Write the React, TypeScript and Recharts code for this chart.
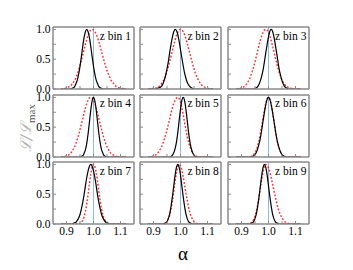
import { Line, LineChart, ReferenceLine, XAxis, YAxis } from "recharts";

// alpha grid shared by every panel
const alpha = [
  0.88, 0.885, 0.89, 0.895, 0.9, 0.905, 0.91, 0.915, 0.92, 0.925,
  0.93, 0.935, 0.94, 0.945, 0.95, 0.955, 0.96, 0.965, 0.97, 0.975,
  0.98, 0.985, 0.99, 0.995, 1, 1.005, 1.01, 1.015, 1.02, 1.025,
  1.03, 1.035, 1.04, 1.045, 1.05, 1.055, 1.06, 1.065, 1.07, 1.075,
  1.08, 1.085, 1.09, 1.095, 1.1, 1.105, 1.11, 1.115, 1.12,
];

// L / Lmax, black solid curves
const black1 = [
  0, 0, 0, 0, 0, 0, 0, 0, 0.01, 0.02,
  0.04, 0.09, 0.15, 0.25, 0.38, 0.54, 0.71, 0.86, 0.96, 1,
  0.96, 0.86, 0.71, 0.54, 0.38, 0.25, 0.15, 0.09, 0.04, 0.02,
  0.01, 0, 0, 0, 0, 0, 0, 0, 0, 0,
  0, 0, 0, 0, 0, 0, 0, 0, 0,
];
const black2 = [
  0, 0, 0, 0, 0, 0, 0, 0.01, 0.02, 0.03,
  0.05, 0.09, 0.15, 0.23, 0.34, 0.46, 0.61, 0.75, 0.87, 0.96,
  1, 0.98, 0.91, 0.8, 0.66, 0.52, 0.39, 0.27, 0.18, 0.11,
  0.07, 0.04, 0.02, 0.01, 0, 0, 0, 0, 0, 0,
  0, 0, 0, 0, 0, 0, 0, 0, 0,
];
const black3 = [
  0, 0, 0, 0, 0, 0, 0, 0, 0, 0,
  0, 0, 0, 0, 0.01, 0.02, 0.04, 0.08, 0.14, 0.22,
  0.32, 0.46, 0.61, 0.75, 0.88, 0.97, 1, 0.97, 0.88, 0.75,
  0.61, 0.46, 0.32, 0.22, 0.14, 0.08, 0.04, 0.02, 0.01, 0,
  0, 0, 0, 0, 0, 0, 0, 0, 0,
];
const black4 = [
  0, 0, 0, 0, 0, 0, 0, 0, 0, 0,
  0, 0, 0, 0, 0, 0.01, 0.02, 0.06, 0.12, 0.23,
  0.39, 0.59, 0.79, 0.94, 1, 0.94, 0.79, 0.59, 0.39, 0.23,
  0.12, 0.06, 0.02, 0.01, 0, 0, 0, 0, 0, 0,
  0, 0, 0, 0, 0, 0, 0, 0, 0,
];
const black5 = [
  0, 0, 0, 0, 0, 0, 0, 0, 0, 0,
  0, 0, 0, 0, 0, 0, 0, 0.01, 0.03, 0.07,
  0.14, 0.25, 0.41, 0.61, 0.8, 0.95, 1, 0.95, 0.8, 0.61,
  0.41, 0.25, 0.14, 0.07, 0.03, 0.01, 0, 0, 0, 0,
  0, 0, 0, 0, 0, 0, 0, 0, 0,
];
const black6 = [
  0, 0, 0, 0, 0, 0, 0, 0, 0, 0,
  0, 0, 0.01, 0.02, 0.04, 0.08, 0.14, 0.22, 0.32, 0.46,
  0.61, 0.75, 0.88, 0.97, 1, 0.97, 0.88, 0.75, 0.61, 0.46,
  0.32, 0.22, 0.14, 0.08, 0.04, 0.02, 0.01, 0, 0, 0,
  0, 0, 0, 0, 0, 0, 0, 0, 0,
];
const black7 = [
  0, 0, 0, 0, 0, 0, 0, 0, 0, 0.01,
  0.02, 0.03, 0.06, 0.1, 0.16, 0.25, 0.36, 0.49, 0.64, 0.78,
  0.89, 0.97, 1, 0.97, 0.89, 0.78, 0.64, 0.49, 0.36, 0.25,
  0.16, 0.1, 0.06, 0.03, 0.02, 0.01, 0, 0, 0, 0,
  0, 0, 0, 0, 0, 0, 0, 0, 0,
];
const black8 = [
  0, 0, 0, 0, 0, 0, 0, 0, 0, 0,
  0, 0, 0.01, 0.02, 0.04, 0.09, 0.17, 0.3, 0.46, 0.64,
  0.82, 0.95, 1, 0.95, 0.82, 0.64, 0.46, 0.3, 0.17, 0.09,
  0.04, 0.02, 0.01, 0, 0, 0, 0, 0, 0, 0,
  0, 0, 0, 0, 0, 0, 0, 0, 0,
];
const black9 = [
  0, 0, 0, 0, 0, 0, 0, 0, 0, 0,
  0, 0.01, 0.02, 0.04, 0.09, 0.17, 0.3, 0.46, 0.64, 0.82,
  0.95, 1, 0.95, 0.82, 0.64, 0.46, 0.3, 0.17, 0.09, 0.04,
  0.02, 0.01, 0, 0, 0, 0, 0, 0, 0, 0,
  0, 0, 0, 0, 0, 0, 0, 0, 0,
];

// L / Lmax, red dotted curves
const red1 = [
  0, 0, 0.01, 0.01, 0.02, 0.03, 0.04, 0.05, 0.08, 0.11,
  0.14, 0.19, 0.25, 0.32, 0.4, 0.48, 0.57, 0.66, 0.75, 0.83,
  0.9, 0.96, 0.99, 1, 0.99, 0.96, 0.92, 0.86, 0.79, 0.71,
  0.62, 0.54, 0.46, 0.38, 0.31, 0.25, 0.2, 0.15, 0.12, 0.09,
  0.06, 0.04, 0.03, 0.02, 0.01, 0.01, 0.01, 0, 0,
];
const red2 = [
  0, 0, 0, 0.01, 0.01, 0.01, 0.02, 0.03, 0.04, 0.06,
  0.09, 0.13, 0.17, 0.23, 0.3, 0.37, 0.46, 0.55, 0.64, 0.74,
  0.82, 0.9, 0.95, 0.99, 1, 0.99, 0.96, 0.91, 0.84, 0.76,
  0.68, 0.59, 0.5, 0.42, 0.34, 0.27, 0.21, 0.16, 0.12, 0.09,
  0.06, 0.04, 0.03, 0.02, 0.01, 0.01, 0.01, 0, 0,
];
const red3 = [
  0, 0, 0.01, 0.01, 0.02, 0.03, 0.04, 0.06, 0.09, 0.13,
  0.17, 0.23, 0.3, 0.37, 0.46, 0.55, 0.64, 0.74, 0.82, 0.9,
  0.95, 0.99, 1, 0.99, 0.95, 0.89, 0.81, 0.72, 0.63, 0.53,
  0.44, 0.35, 0.27, 0.21, 0.15, 0.11, 0.08, 0.05, 0.04, 0.02,
  0.02, 0.01, 0.01, 0, 0, 0, 0, 0, 0,
];
const red4 = [
  0, 0, 0.01, 0.01, 0.02, 0.03, 0.04, 0.06, 0.09, 0.13,
  0.17, 0.23, 0.3, 0.37, 0.46, 0.55, 0.64, 0.74, 0.82, 0.9,
  0.95, 0.99, 1, 0.99, 0.95, 0.9, 0.82, 0.74, 0.64, 0.55,
  0.46, 0.37, 0.3, 0.23, 0.17, 0.13, 0.09, 0.06, 0.04, 0.03,
  0.02, 0.01, 0.01, 0, 0, 0, 0, 0, 0,
];
const red5 = [
  0, 0, 0.01, 0.01, 0.02, 0.03, 0.04, 0.06, 0.09, 0.13,
  0.17, 0.23, 0.3, 0.37, 0.46, 0.55, 0.64, 0.74, 0.82, 0.9,
  0.95, 0.99, 1, 0.98, 0.92, 0.82, 0.71, 0.58, 0.46, 0.34,
  0.25, 0.17, 0.12, 0.07, 0.04, 0.03, 0.01, 0.01, 0, 0,
  0, 0, 0, 0, 0, 0, 0, 0, 0,
];
const red6 = [
  0, 0, 0, 0, 0, 0, 0, 0, 0, 0,
  0.01, 0.01, 0.02, 0.04, 0.08, 0.12, 0.19, 0.28, 0.4, 0.52,
  0.66, 0.79, 0.9, 0.98, 1, 0.97, 0.88, 0.75, 0.61, 0.46,
  0.32, 0.22, 0.14, 0.08, 0.04, 0.02, 0.01, 0, 0, 0,
  0, 0, 0, 0, 0, 0, 0, 0, 0,
];
const red7 = [
  0, 0, 0, 0, 0, 0, 0, 0, 0, 0,
  0, 0, 0, 0, 0.01, 0.03, 0.06, 0.12, 0.21, 0.34,
  0.5, 0.68, 0.84, 0.96, 1, 0.96, 0.86, 0.71, 0.54, 0.38,
  0.25, 0.15, 0.09, 0.04, 0.02, 0.01, 0, 0, 0, 0,
  0, 0, 0, 0, 0, 0, 0, 0, 0,
];
const red8 = [
  0, 0, 0, 0, 0, 0, 0, 0, 0, 0,
  0, 0, 0.01, 0.02, 0.04, 0.09, 0.15, 0.25, 0.38, 0.54,
  0.71, 0.86, 0.96, 1, 0.98, 0.9, 0.79, 0.66, 0.52, 0.4,
  0.28, 0.19, 0.12, 0.08, 0.04, 0.02, 0.01, 0.01, 0, 0,
  0, 0, 0, 0, 0, 0, 0, 0, 0,
];
const red9 = [
  0, 0, 0, 0, 0, 0, 0, 0, 0, 0,
  0.01, 0.02, 0.04, 0.08, 0.14, 0.22, 0.32, 0.46, 0.61, 0.75,
  0.88, 0.97, 1, 0.98, 0.94, 0.87, 0.78, 0.67, 0.56, 0.46,
  0.36, 0.27, 0.2, 0.15, 0.1, 0.07, 0.04, 0.03, 0.02, 0.01,
  0.01, 0, 0, 0, 0, 0, 0, 0, 0,
];

const binLabels = ["z bin 1", "z bin 2", "z bin 3", "z bin 4", "z bin 5", "z bin 6", "z bin 7", "z bin 8", "z bin 9"];
const blackCurves = [black1, black2, black3, black4, black5, black6, black7, black8, black9];
const redCurves = [red1, red2, red3, red4, red5, red6, red7, red8, red9];

const xTicks = [0.9, 0.95, 1, 1.05, 1.1];
const yTicks = [0, 0.25, 0.5, 0.75, 1];
const xLabeled = [0.9, 1, 1.1];
const yLabeled = [0, 0.5, 1];

const SERIF = "Liberation Serif, Times New Roman, serif";
const FRAME = "#8a8a8a";
const PLOT_W = 81;
const PLOT_H = 62;
const LEFT_W = 30;
const BOTTOM_H = 20;
const TOP_PAD = 6;

function Panel({ index }: { index: number }) {
  const row = Math.floor(index / 3);
  const col = index % 3;
  const plotLeft = 52.5 + col * 87.7;
  const plotTop = 27 + row * 67.7;
  const showY = col === 0;
  const showX = row === 2;

  const data = alpha.map((a, i) => ({
    alpha: a,
    black: blackCurves[index][i],
    red: redCurves[index][i],
  }));

  const tickStyle = { fill: "#000", fontSize: 11.5, fontFamily: SERIF };

  return (
    <>
      <div style={{ position: "absolute", left: plotLeft - LEFT_W, top: plotTop - 1 - TOP_PAD }}>
        <LineChart
          width={LEFT_W + PLOT_W + 1}
          height={TOP_PAD + 1 + PLOT_H + BOTTOM_H}
          data={data}
          margin={{ top: TOP_PAD, right: 0, bottom: 0, left: 0 }}
        >
          <XAxis
            dataKey="alpha"
            type="number"
            domain={[0.85, 1.15]}
            allowDataOverflow
            ticks={xTicks}
            orientation="bottom"
            height={BOTTOM_H}
            tickSize={-3}
            tickMargin={6}
            tick={tickStyle}
            tickFormatter={(v: number) => (showX && xLabeled.includes(v) ? v.toFixed(1) : "")}
            axisLine={{ stroke: FRAME, strokeWidth: 1.5 }}
            tickLine={{ stroke: FRAME }}
            interval={0}
          />
          <XAxis
            xAxisId="top"
            dataKey="alpha"
            type="number"
            domain={[0.85, 1.15]}
            allowDataOverflow
            ticks={xTicks}
            orientation="top"
            height={1}
            tickSize={-3}
            tick={false}
            axisLine={{ stroke: FRAME, strokeWidth: 1.5 }}
            tickLine={{ stroke: FRAME }}
            interval={0}
          />
          <YAxis
            type="number"
            domain={[0, 1.04]}
            allowDataOverflow
            ticks={yTicks}
            width={LEFT_W}
            tickSize={-3}
            tickMargin={5.5}
            tick={tickStyle}
            tickFormatter={(v: number) => (showY && yLabeled.includes(v) ? v.toFixed(1) : "")}
            axisLine={{ stroke: FRAME, strokeWidth: 1.5 }}
            tickLine={{ stroke: FRAME }}
            interval={0}
          />
          <YAxis
            yAxisId="right"
            orientation="right"
            type="number"
            domain={[0, 1.04]}
            allowDataOverflow
            ticks={yTicks}
            width={1}
            tickSize={-3}
            tick={false}
            axisLine={{ stroke: FRAME, strokeWidth: 1.5 }}
            tickLine={{ stroke: FRAME }}
            interval={0}
          />
          <ReferenceLine x={1} stroke="#6fa8dc" strokeWidth={0.8} />
          <Line
            type="monotone"
            dataKey="red"
            stroke="#ff2a2a"
            strokeWidth={1.4}
            strokeDasharray="1.8 1.8"
            dot={false}
            isAnimationActive={false}
          />
          <Line
            type="monotone"
            dataKey="black"
            stroke="#000"
            strokeWidth={1.2}
            dot={false}
            isAnimationActive={false}
          />
        </LineChart>
      </div>
      <div
        style={{
          position: "absolute",
          left: plotLeft,
          top: plotTop + 1.5,
          width: PLOT_W - 2.5,
          textAlign: "right",
          fontFamily: SERIF,
          fontSize: 11.5,
          lineHeight: "14px",
          color: "#000",
        }}
      >
        {binLabels[index]}
      </div>
    </>
  );
}

export default function App() {
  return (
    <div
      style={{
        position: "absolute",
        left: 0,
        top: 0,
        width: 353,
        height: 270,
        background: "#fff",
        overflow: "hidden",
      }}
    >
      {binLabels.map((_, i) => (
        <Panel key={i} index={i} />
      ))}
      <div
        style={{
          position: "absolute",
          left: 26,
          top: 128,
          transform: "translate(-50%, -50%) rotate(-90deg)",
          whiteSpace: "nowrap",
          fontFamily: "DejaVu Serif, serif",
          fontSize: 15,
        }}
      >
        <span style={{ color: "#b0b0b0", fontStyle: "italic" }}>ℒ/ℒ</span>
        <sub style={{ color: "#555", fontFamily: SERIF, fontSize: 11 }}>max</sub>
      </div>
      <div
        style={{
          position: "absolute",
          left: 183,
          top: 254,
          transform: "translate(-50%, -50%)",
          fontFamily: SERIF,
          fontSize: 19,
          color: "#000",
        }}
      >
        α
      </div>
    </div>
  );
}
